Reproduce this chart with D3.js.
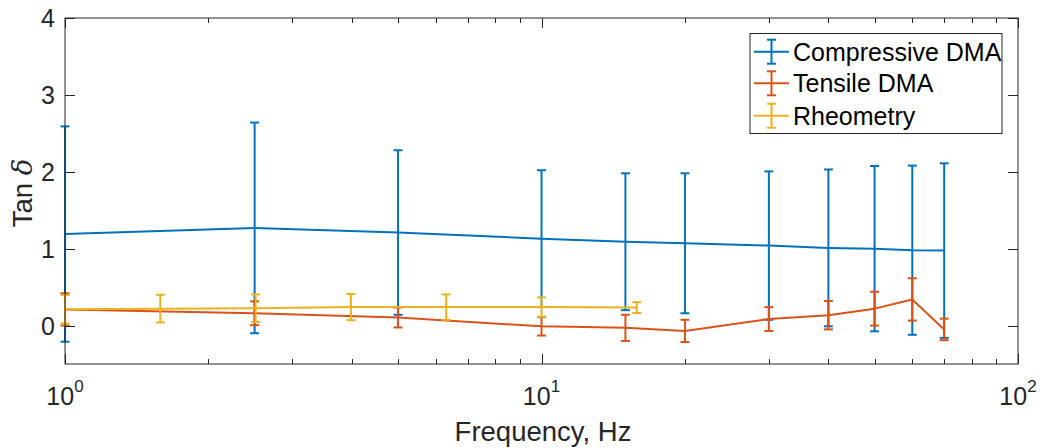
<!DOCTYPE html>
<html>
<head>
<meta charset="utf-8">
<script src="https://cdn.jsdelivr.net/npm/d3@7"></script>
<style>
  html, body { margin: 0; padding: 0; background: #fff; }
  svg { display: block; }
  text { font-family: "Liberation Sans", Arial, Helvetica, sans-serif; fill: #262626; }
</style>
</head>
<body>
<svg id="chart" width="1046" height="448"></svg>
<script>
// ---- data ----
const compFreq = [1, 2.5, 5, 10, 15, 20, 30, 40, 50, 60, 70];
const compMean = [1.19, 1.27, 1.21, 1.13, 1.09, 1.07, 1.04, 1.01, 1.00, 0.98, 0.975];
const compErr  = [1.40, 1.37, 1.07, 0.89, 0.89, 0.91, 0.965, 1.02, 1.075, 1.10, 1.135];

const tensFreq = [1, 2.5, 5, 10, 15, 20, 30, 40, 50, 60, 70];
const tensMean = [0.21, 0.16, 0.105, -0.01, -0.03, -0.07, 0.085, 0.135, 0.22, 0.34, -0.05];
const tensErr  = [0.21, 0.155, 0.13, 0.12, 0.17, 0.145, 0.155, 0.185, 0.22, 0.275, 0.14];

const rheoFreq = [1, 1.585, 2.512, 3.981, 6.31, 10, 15.85];
const rheoMean = [0.213, 0.22, 0.225, 0.24, 0.24, 0.24, 0.234];
const rheoErr  = [0.185, 0.18, 0.18, 0.17, 0.165, 0.125, 0.07];

const seriesNames = ["Compressive DMA", "Tensile DMA", "Rheometry"];
const seriesColors = ["#0072BD", "#D95319", "#EDB120"];

const xMajorTicks = [1, 10, 100];
const xTickExponents = ["0", "1", "2"];
const xMinorTicks = [2, 3, 4, 5, 6, 7, 8, 9, 20, 30, 40, 50, 60, 70, 80, 90];
const yTicks = [0, 1, 2, 3, 4];

const xLabel = "Frequency, Hz";

// ---- layout ----
const svg = d3.select("#chart");
const L = 65, R = 1018, T = 18, B = 364;
const axisColor = "#262626";

const x = d3.scaleLog().domain([1, 100]).range([L, R]);
const y = d3.scaleLinear().domain([-0.5, 4]).range([B, T]);

const series = [
  { f: compFreq, m: compMean, e: compErr },
  { f: tensFreq, m: tensMean, e: tensErr },
  { f: rheoFreq, m: rheoMean, e: rheoErr }
];

const plot = svg.append("g");
const capW = 4.5;

series.forEach((s, i) => {
  const pts = s.f.map((f, k) => ({ f, m: s.m[k], e: s.e[k] }));
  const g = plot.append("g").attr("stroke", seriesColors[i]).attr("stroke-width", 2).attr("fill", "none");
  g.append("path")
    .datum(pts)
    .attr("d", d3.line().x(d => x(d.f)).y(d => y(d.m)))
    .attr("stroke-linejoin", "round");
  const eb = g.selectAll(".eb").data(pts).enter().append("g");
  eb.append("line")
    .attr("x1", d => x(d.f)).attr("x2", d => x(d.f))
    .attr("y1", d => y(d.m - d.e)).attr("y2", d => y(d.m + d.e));
  eb.append("line")
    .attr("x1", d => x(d.f) - capW).attr("x2", d => x(d.f) + capW)
    .attr("y1", d => y(d.m + d.e)).attr("y2", d => y(d.m + d.e));
  eb.append("line")
    .attr("x1", d => x(d.f) - capW).attr("x2", d => x(d.f) + capW)
    .attr("y1", d => y(d.m - d.e)).attr("y2", d => y(d.m - d.e));
});

// ---- axes box & ticks ----
const ax = svg.append("g").attr("stroke", axisColor).attr("stroke-width", 1).attr("fill", "none");
ax.append("rect").attr("x", L).attr("y", T).attr("width", R - L).attr("height", B - T);

// x major / minor ticks (inward, top and bottom)
xMajorTicks.forEach(t => {
  const px = Math.round(x(t)) + 0.5;
  ax.append("line").attr("x1", px).attr("x2", px).attr("y1", B).attr("y2", B - 10);
  ax.append("line").attr("x1", px).attr("x2", px).attr("y1", T).attr("y2", T + 10);
});
xMinorTicks.forEach(t => {
  const px = Math.round(x(t)) + 0.5;
  ax.append("line").attr("x1", px).attr("x2", px).attr("y1", B).attr("y2", B - 5);
  ax.append("line").attr("x1", px).attr("x2", px).attr("y1", T).attr("y2", T + 5);
});
// y ticks (inward, left and right)
yTicks.forEach(t => {
  const py = Math.round(y(t)) + 0.5;
  ax.append("line").attr("x1", L).attr("x2", L + 10).attr("y1", py).attr("y2", py);
  ax.append("line").attr("x1", R).attr("x2", R - 10).attr("y1", py).attr("y2", py);
});

// tick labels
const tickFont = 25;
yTicks.forEach(t => {
  svg.append("text")
    .attr("x", 55).attr("y", y(t) + 0.358 * tickFont)
    .attr("text-anchor", "end")
    .attr("font-size", tickFont)
    .text(t);
});
xMajorTicks.forEach((t, i) => {
  const tx = svg.append("text")
    .attr("x", x(t)).attr("y", 405)
    .attr("text-anchor", "middle")
    .attr("font-size", tickFont);
  tx.append("tspan").text("10");
  tx.append("tspan").attr("font-size", 17).attr("dy", -13).text(xTickExponents[i]);
});

// axis labels
svg.append("text")
  .attr("x", 543).attr("y", 441)
  .attr("text-anchor", "middle")
  .attr("font-size", 27.5)
  .text(xLabel);

const yl = svg.append("text")
  .attr("transform", "translate(32,193) rotate(-90)")
  .attr("text-anchor", "middle")
  .attr("font-size", 27.5);
yl.append("tspan").text("Tan ");
yl.append("tspan").attr("font-style", "italic").attr("font-family", "'DejaVu Serif', 'Liberation Serif', serif").text("δ");

// ---- legend ----
const lg = svg.append("g");
lg.append("rect")
  .attr("x", 750).attr("y", 33.5).attr("width", 252).attr("height", 100)
  .attr("fill", "#fff").attr("stroke", axisColor).attr("stroke-width", 1);
const rowsY = [51.7, 83.3, 115.7];
seriesNames.forEach((name, i) => {
  const cy = rowsY[i];
  const g = lg.append("g").attr("stroke", seriesColors[i]).attr("stroke-width", 2);
  g.append("line").attr("x1", 754).attr("x2", 789).attr("y1", cy).attr("y2", cy);
  g.append("line").attr("x1", 771.5).attr("x2", 771.5).attr("y1", cy - 12).attr("y2", cy + 12);
  g.append("line").attr("x1", 771.5 - capW).attr("x2", 771.5 + capW).attr("y1", cy - 12).attr("y2", cy - 12);
  g.append("line").attr("x1", 771.5 - capW).attr("x2", 771.5 + capW).attr("y1", cy + 12).attr("y2", cy + 12);
  lg.append("text")
    .attr("x", 793).attr("y", cy + 0.358 * 25)
    .attr("font-size", 25)
    .attr("fill", "#000")
    .style("fill", "#000")
    .text(name);
});
</script>
</body>
</html>
